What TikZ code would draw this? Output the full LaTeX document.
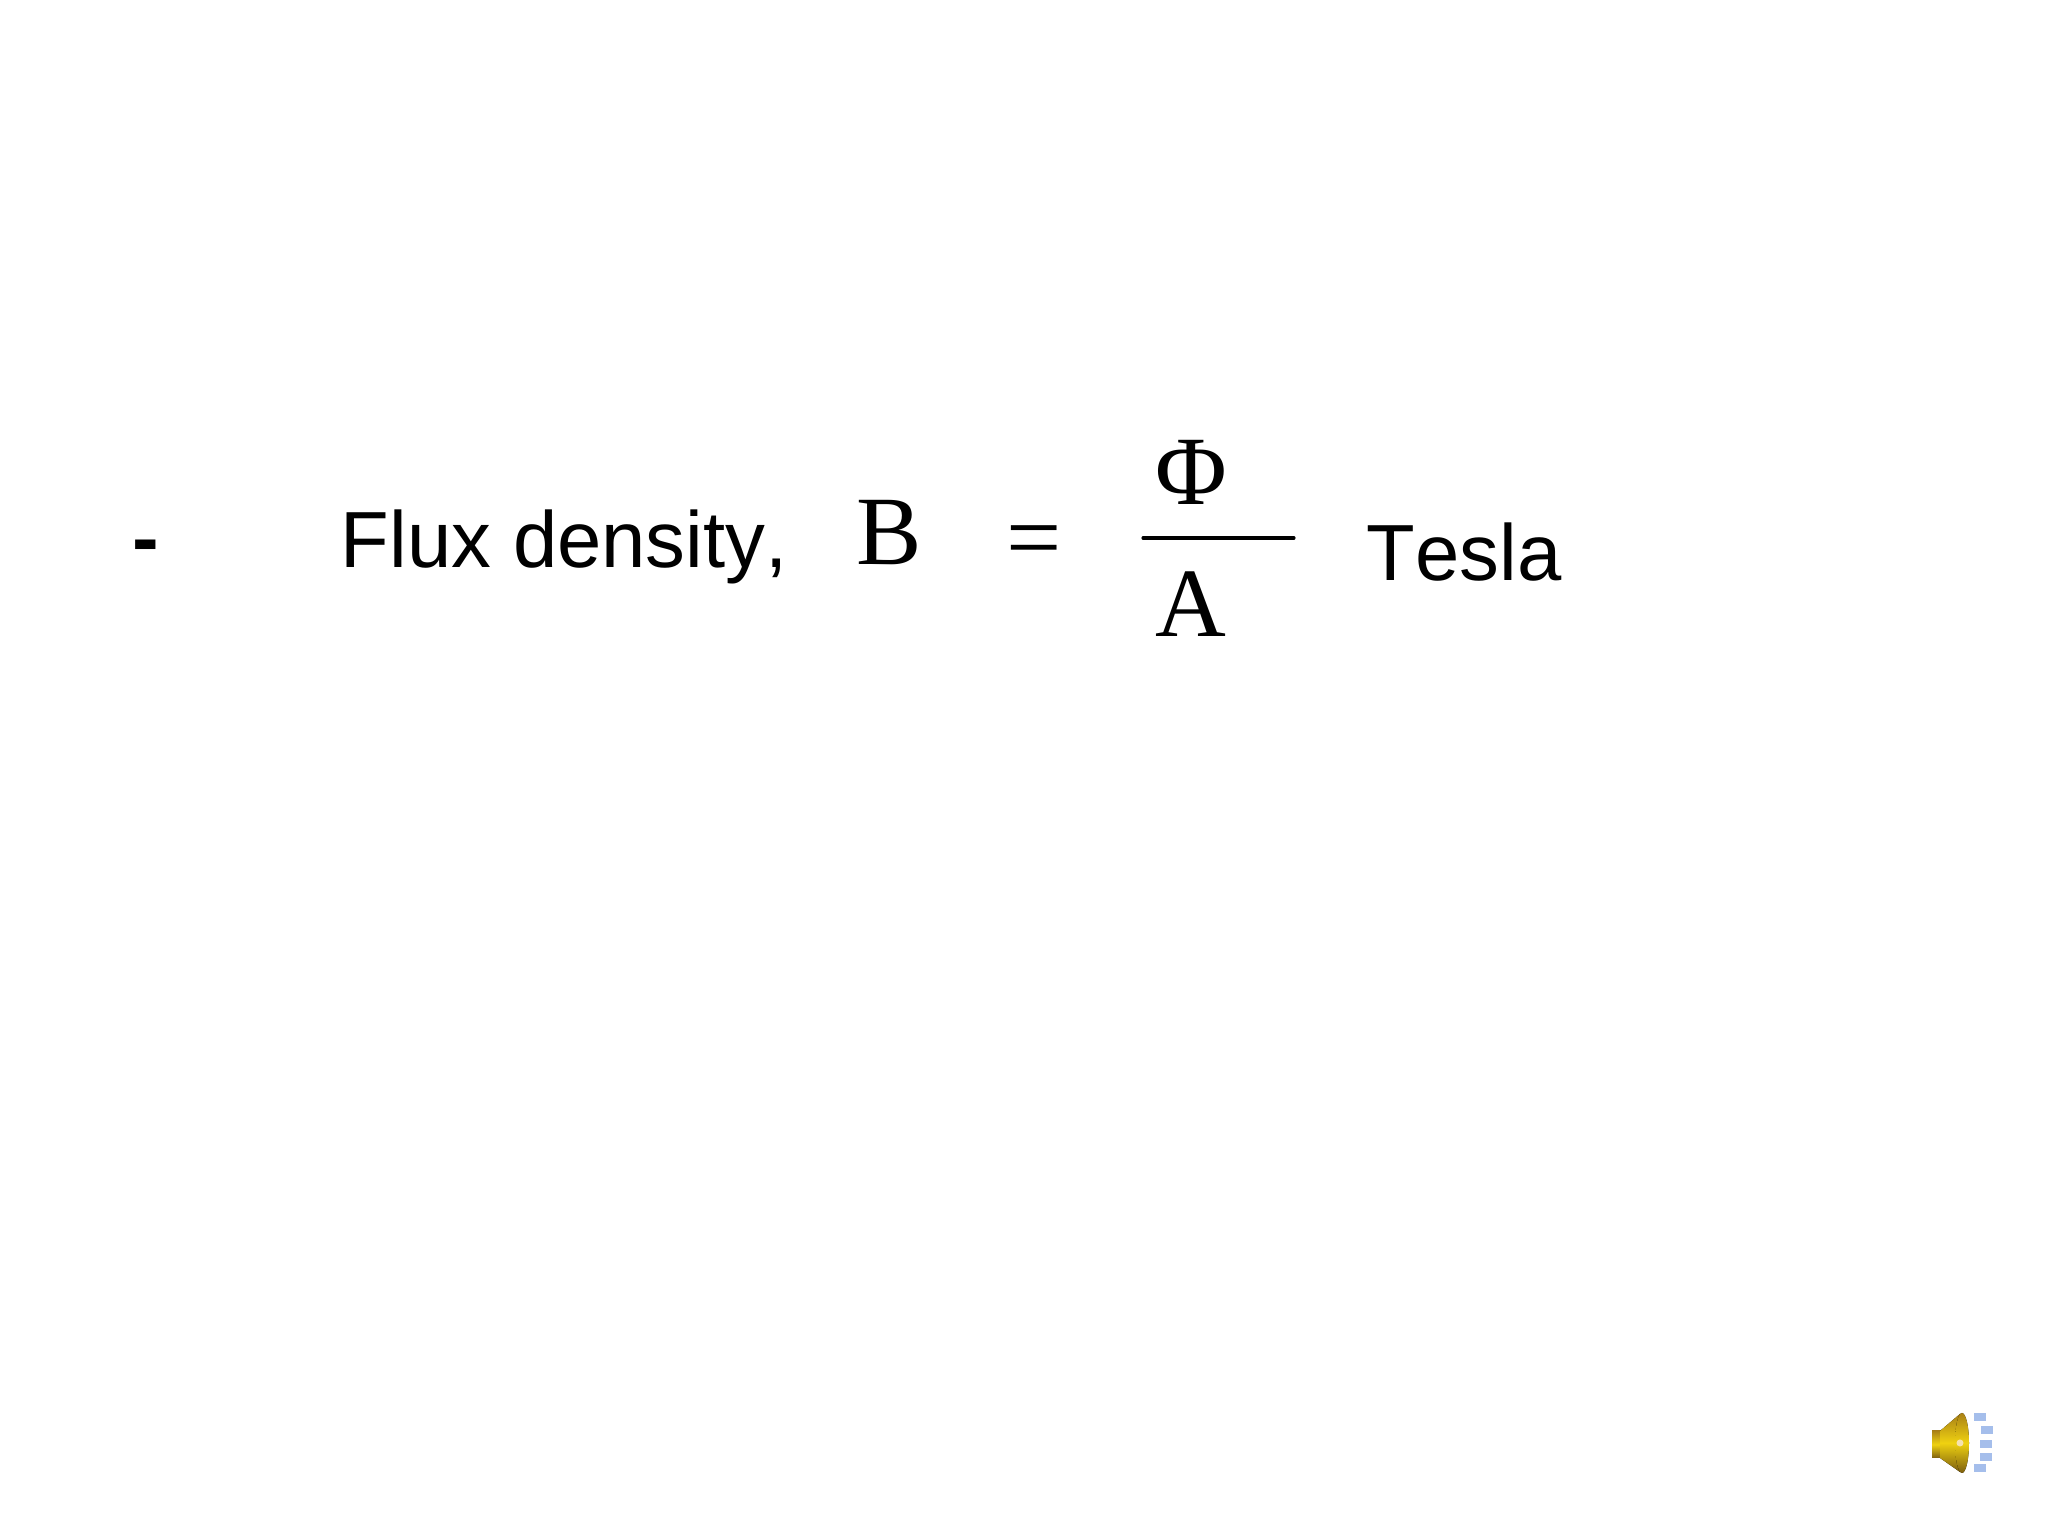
\documentclass[tikz,border=0pt]{standalone}
\usepackage{fontspec}
\setmainfont[Kerning=Off]{Liberation Sans}
\newfontfamily\serifface{Liberation Serif}
\tikzset{
	sanstext/.style={inner sep=0pt,anchor=base west,font=\fontsize{22.65}{27}\selectfont},
	seriftext/.style={inner sep=0pt,anchor=base west,font=\fontsize{27.9}{33}\serifface},
	gold/.style={draw=none,top color=#1!75!black,bottom color=#1!55!black,middle color=#1!55!yellow}
}
\definecolor{horn}{RGB}{226,172,30}
\definecolor{wave}{RGB}{165,190,235}
\begin{document}
\begin{tikzpicture}
	\useasboundingbox (0,0) rectangle (20.48,15.34);
	\fill[white] (0,0) rectangle (20.48,15.34);
	%Dau gach
	\node[sanstext,font=\fontsize{22.75}{27}\bfseries\selectfont] (dash) at (1.32,9.68) {-};
	%Dong chu
	\node[sanstext] (flux) at (3.40,9.66) {Flux density,};
	\node[seriftext] (bsym) at (8.56,9.69) {B};
	\node[seriftext] (eqsym) at (10.06,9.63) {=};
	%Phan so
	\node[seriftext] (phisym) at (11.55,10.29) {Φ};
	\node[seriftext] (asym) at (11.55,8.97) {A};
	\coordinate (barl) at (11.43,9.96);
	\coordinate (barr) at (12.94,9.96);
	\draw[line width=0.9pt,line cap=round] (barl)--(barr);
	\node[sanstext] (tesla) at (13.66,9.53) {Tesla};
	%Loa
	\fill[gold=horn] (19.32,1.03) rectangle (19.42,0.76);
	\fill[gold=horn] (19.40,1.03) -- (19.60,1.20) -- (19.60,0.62) -- (19.40,0.76) -- cycle;
	\fill[gold=horn] (19.62,0.91) ellipse (0.07 and 0.30);
	\fill[horn!35!white] (19.60,0.91) circle (0.035);
	%Song am
	\foreach \x/\y in {19.74/1.13,19.81/1.00,19.80/0.86,19.80/0.73,19.74/0.62}
		\fill[wave] (\x,\y) rectangle +(0.12,0.08);
\end{tikzpicture}
\end{document}
